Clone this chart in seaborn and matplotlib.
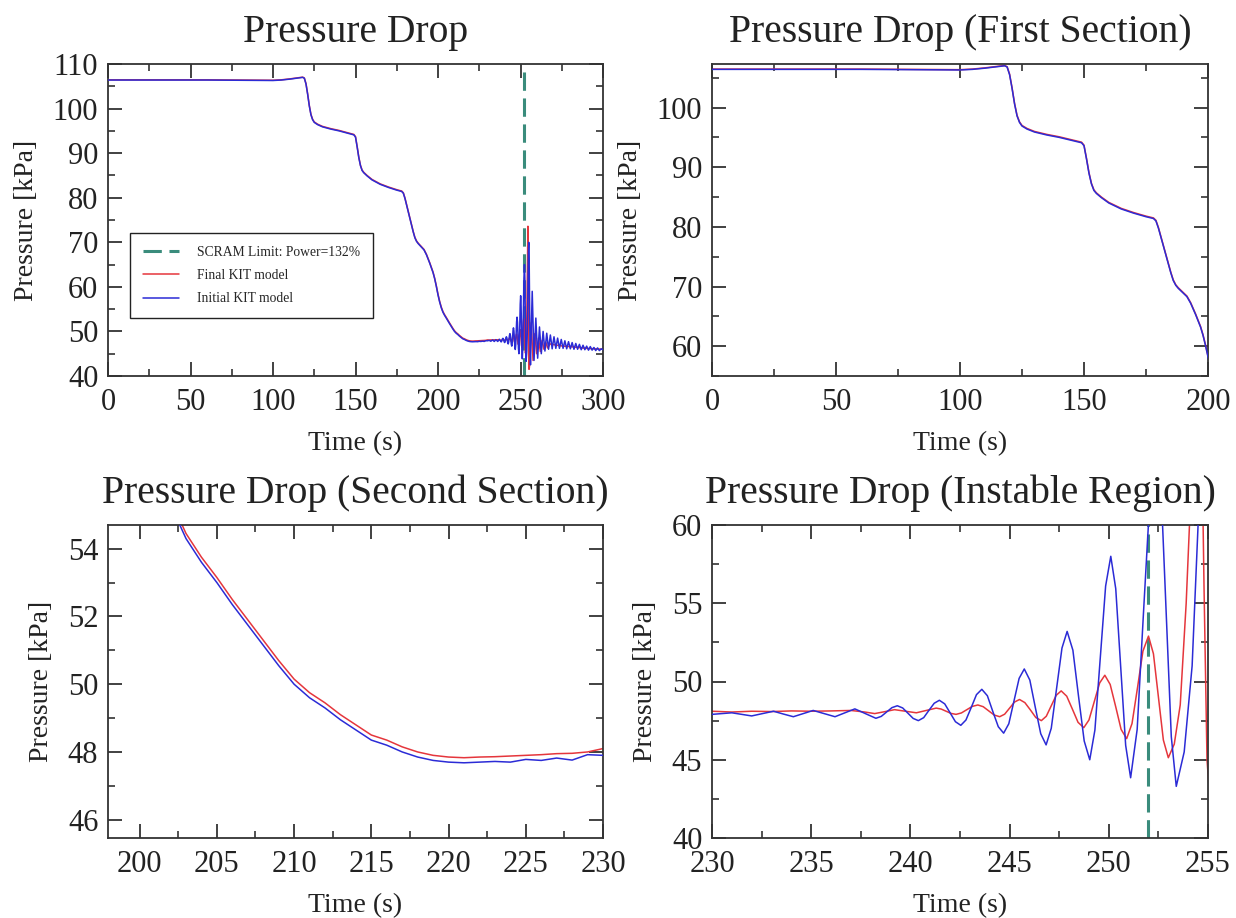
import numpy as np
import pandas as pd
import matplotlib
matplotlib.use("Agg")
import matplotlib.pyplot as plt
from matplotlib.ticker import MultipleLocator
import seaborn as sns

# ---------------- data ----------------
scram_time = 252.0
scram_label = "SCRAM Limit: Power=132%"
final_label = "Final KIT model"
initial_label = "Initial KIT model"

# shared time grid for the slow transient (0-229 s)
t_ramp = [0, 20, 40, 60, 80, 100, 105, 110, 115, 118, 119,
          120, 121, 122, 123, 124, 125, 127, 130, 135, 140, 145, 149,
          150, 151, 152, 153, 154, 155, 157, 160, 165, 170, 175, 178,
          179, 180, 181, 182, 183, 184, 185, 186, 187, 188, 189, 190,
          191.5, 193, 195, 197, 198, 199,
          200, 201, 202, 203, 204, 205, 206, 207, 208, 209, 210, 211, 212, 213, 214,
          215, 216, 217, 218, 219, 220, 221, 222, 223, 224, 225, 226, 227, 228, 229]

p_initial_ramp = [106.4, 106.4, 106.4, 106.4, 106.35, 106.3, 106.4, 106.6, 106.85, 107.0, 106.8,
                  105.5, 103.2, 100.6, 98.6, 97.5, 96.9, 96.4, 95.9, 95.4, 95.0, 94.5, 94.1,
                  93.6, 91.4, 89.0, 87.2, 86.1, 85.6, 84.9, 84.0, 83.0, 82.3, 81.7, 81.4,
                  81.0, 79.8, 78.3, 76.8, 75.3, 73.8, 72.3, 71.0, 70.2, 69.7, 69.3, 68.9,
                  68.3, 67.2, 65.3, 63.2, 61.8, 60.1,
                  58.2, 56.6, 55.3, 54.3, 53.6, 53.0, 52.35, 51.75, 51.15, 50.55, 50.0, 49.6, 49.3, 48.95, 48.65,
                  48.35, 48.2, 48.0, 47.85, 47.75, 47.7, 47.68, 47.7, 47.72, 47.7, 47.78, 47.75, 47.82, 47.76, 47.92]

p_final_ramp = [106.45, 106.45, 106.45, 106.45, 106.4, 106.35, 106.45, 106.65, 106.9, 107.05, 106.85,
                105.6, 103.3, 100.7, 98.7, 97.6, 97.0, 96.5, 96.0, 95.5, 95.1, 94.6, 94.2,
                93.7, 91.5, 89.1, 87.3, 86.2, 85.7, 85.0, 84.1, 83.1, 82.4, 81.8, 81.5,
                81.1, 79.9, 78.4, 76.9, 75.4, 73.9, 72.4, 71.1, 70.3, 69.8, 69.4, 69.0,
                68.4, 67.3, 65.4, 63.3, 61.9, 60.2,
                58.35, 56.75, 55.45, 54.45, 53.75, 53.15, 52.5, 51.9, 51.3, 50.7, 50.15, 49.75, 49.45, 49.1, 48.8,
                48.5, 48.35, 48.15, 48.0, 47.9, 47.85, 47.83, 47.85, 47.86, 47.88, 47.9, 47.92, 47.95, 47.96, 48.0]

# instability: initial model
t_initial_osc = [230.0, 230.5, 231.0, 231.5, 232.0, 232.55, 233.1, 233.6, 234.1, 234.6,
                 235.1, 235.65, 236.2, 236.7, 237.2, 237.73, 238.26,
                 238.53, 238.8, 239.07, 239.34, 239.61, 239.87, 240.14, 240.4,
                 240.67, 240.93, 241.2, 241.46, 241.73, 242.0, 242.27, 242.54,
                 242.8, 243.07, 243.33, 243.6, 243.88, 244.15, 244.43, 244.7,
                 244.96, 245.22, 245.48, 245.74, 246.02, 246.29, 246.57, 246.84,
                 247.1, 247.37, 247.64, 247.9, 248.19, 248.47, 248.76, 249.04,
                 249.3, 249.57, 249.84, 250.1, 250.35, 250.6, 250.85, 251.1,
                 251.43, 251.75, 252.08, 252.4, 252.65, 252.9, 253.15, 253.4,
                 253.8, 254.2, 254.5, 254.8, 255.0, 255.25, 255.5, 255.75, 256.05,
                 257.1, 258.2, 259.3, 260.4, 261.5, 262.6, 263.7, 264.8, 265.9, 267.0,
                 268.1, 269.2, 270.3, 271.4, 272.5, 273.6, 274.7, 275.8, 276.9, 278.0,
                 279.1, 280.2, 281.3, 282.4, 283.5, 284.6, 285.7, 286.8, 287.9, 289.0,
                 290.1, 291.2, 292.3, 293.4, 294.5, 295.6, 296.7, 297.8, 298.9, 300.0]
p_initial_osc = [47.9, 47.95, 48.0, 47.9, 47.8, 47.95, 48.1, 47.92, 47.75, 47.95,
                 48.15, 47.95, 47.75, 48.0, 48.25, 47.95, 47.65,
                 47.77, 48.05, 48.33, 48.45, 48.31, 47.98, 47.64, 47.5,
                 47.69, 48.15, 48.61, 48.8, 48.57, 48.0, 47.43, 47.2,
                 47.54, 48.35, 49.16, 49.5, 49.09, 48.1, 47.11, 46.7,
                 47.3, 48.75, 50.2, 50.8, 50.09, 48.38, 46.66, 45.95,
                 47.01, 49.58, 52.14, 53.2, 52.0, 49.1, 46.2, 45.0,
                 46.9, 51.5, 56.1, 58.0, 55.93, 50.93, 45.92, 43.85,
                 46.94, 54.43, 61.91, 65.0, 61.83, 54.15, 46.47, 43.3,
                 45.5, 51.0, 60.0, 68.0, 70.0, 66.0, 56.0, 47.0, 42.5,
                 59.0, 43.5, 53.0, 44.0, 51.0, 45.0, 50.0, 45.6, 49.6, 46.0,
                 49.2, 46.1, 48.8, 46.2, 48.5, 46.2, 48.2, 46.2, 47.9, 46.1,
                 47.7, 46.1, 47.5, 46.0, 47.3, 46.0, 47.1, 45.9, 46.9, 45.9,
                 46.7, 45.8, 46.6, 45.8, 46.4, 45.7, 46.3, 45.7, 46.1, 45.9]

# instability: final model
t_final_osc = [230, 231, 232, 233, 234, 235, 236, 237, 237.7, 238.2,
               238.7, 239.2, 239.75, 240.3, 240.8, 241.3,
               241.55, 241.8, 242.05, 242.3, 242.57, 242.85, 243.12, 243.4,
               243.67, 243.95, 244.22, 244.5, 244.75, 245.0, 245.25, 245.5,
               245.77, 246.05, 246.32, 246.6, 246.85, 247.1, 247.35, 247.6,
               247.88, 248.17, 248.45, 248.74, 249.0, 249.27, 249.54, 249.8,
               250.07, 250.35, 250.62, 250.9, 251.17, 251.45, 251.72, 252.0,
               252.25, 252.5, 252.75, 253.0, 253.3, 253.6, 253.9, 254.15, 254.35, 254.5,
               254.65, 254.8, 254.95, 255.15, 255.4,
               256.5, 257.6, 258.7, 259.8, 260.9, 262.0, 263.1, 264.2, 265.3, 266.4,
               268, 272, 276, 280, 285, 290, 295, 300]
p_final_osc = [48.1, 48.05, 48.1, 48.08, 48.12, 48.1, 48.12, 48.15, 48.05, 47.95,
               48.07, 48.2, 48.1, 48.0, 48.15, 48.3,
               48.24, 48.1, 47.96, 47.9, 47.99, 48.2, 48.41, 48.5,
               48.39, 48.12, 47.86, 47.75, 47.91, 48.3, 48.69, 48.85,
               48.65, 48.18, 47.7, 47.5, 47.78, 48.45, 49.12, 49.4,
               49.06, 48.22, 47.39, 47.05, 47.54, 48.72, 49.91, 50.4,
               49.81, 48.38, 46.94, 46.35, 47.31, 49.63, 51.94, 52.9,
               51.77, 49.0, 46.26, 45.13, 46.0, 48.5, 55.0, 62.5, 70.5, 73.6,
               69.0, 56.0, 45.0, 41.5, 42.0,
               52.0, 43.5, 49.5, 45.0, 48.5, 45.5, 48.0, 46.0, 47.6, 46.3,
               47.2, 46.9, 46.7, 46.6, 46.4, 46.2, 46.1, 46.0]

panel_titles = ["Pressure Drop", "Pressure Drop (First Section)",
                "Pressure Drop (Second Section)", "Pressure Drop (Instable Region)"]

# ---------------- build tidy frames ----------------
final_df = pd.DataFrame({"t": list(t_ramp) + list(t_final_osc),
                         "p": list(p_final_ramp) + list(p_final_osc)})
initial_df = pd.DataFrame({"t": list(t_ramp) + list(t_initial_osc),
                           "p": list(p_initial_ramp) + list(p_initial_osc)})

# ---------------- style ----------------
sns.set_theme(style="ticks")
plt.rcParams["font.family"] = ["Liberation Serif", "DejaVu Serif"]
plt.rcParams["axes.edgecolor"] = "#333333"
plt.rcParams["axes.linewidth"] = 1.3

RED = "#e5363c"
BLUE = "#2b2bd6"
TEAL = "#3a8c7c"

fig = plt.figure(figsize=(12.36, 9.18), dpi=100)
W, H = 1236, 918


def axes_px(x0, x1, y0, y1):
    return fig.add_axes([x0 / W, 1 - y1 / H, (x1 - x0) / W, (y1 - y0) / H])


ax_tl = axes_px(108, 603, 64, 376)
ax_tr = axes_px(712, 1208, 64, 376)
ax_bl = axes_px(108, 603, 525, 838)
ax_br = axes_px(712, 1208, 525, 838)

configs = [
    (ax_tl, (0, 300), (40, 110), 50, 25, 10, 5, True),
    (ax_tr, (0, 200), (55, 107.3), 50, 25, 10, 5, False),
    (ax_bl, (197.95, 230), (45.46, 54.7), 5, 2.5, 2, 1, False),
    (ax_br, (230, 255), (40, 60), 5, 2.5, 5, 2.5, True),
]

for (ax, xl, yl, xmaj, xmin, ymaj, ymin, scram), title in zip(configs, panel_titles):
    if scram:
        ax.axvline(scram_time, color=TEAL, lw=2.2, ls=(0, (6, 2.5)),
                   label=scram_label, zorder=1)
    sns.lineplot(data=final_df, x="t", y="p", ax=ax, color=RED, lw=1.1,
                 estimator=None, sort=False, label=final_label, zorder=2)
    sns.lineplot(data=initial_df, x="t", y="p", ax=ax, color=BLUE, lw=1.1,
                 estimator=None, sort=False, label=initial_label, zorder=3)
    ax.set_xlim(*xl)
    ax.set_ylim(*yl)
    ax.xaxis.set_major_locator(MultipleLocator(xmaj))
    ax.xaxis.set_minor_locator(MultipleLocator(xmin))
    ax.yaxis.set_major_locator(MultipleLocator(ymaj))
    ax.yaxis.set_minor_locator(MultipleLocator(ymin))
    ax.tick_params(which="both", direction="in", top=True, right=True,
                   colors="#333333", labelcolor="#222222")
    ax.tick_params(which="major", length=10, width=1.3, labelsize=22, pad=7)
    ax.tick_params(axis="x", which="major", pad=9)
    ax.tick_params(which="minor", length=5, width=1.2)
    ax.set_xlabel("Time (s)", fontsize=20, color="#222222", labelpad=10)
    ax.set_ylabel("Pressure [kPa]", fontsize=20, color="#222222", labelpad=10)
    ax.set_title(title, fontsize=28.5, color="#222222", pad=16)
    for s in ax.spines.values():
        s.set_visible(True)
    leg = ax.get_legend()
    if leg is not None:
        leg.remove()

handles, labels = ax_tl.get_legend_handles_labels()
leg = ax_tl.legend(handles, labels, loc="upper left", bbox_to_anchor=(0.044, 0.458),
                   borderaxespad=0, fontsize=9.8, frameon=True, fancybox=False,
                   edgecolor="#222222", framealpha=1, handlelength=2.7,
                   labelspacing=0.75, borderpad=0.95, handletextpad=1.3)
leg.get_frame().set_linewidth(1.0)

fig.savefig("out.png", dpi=100)
